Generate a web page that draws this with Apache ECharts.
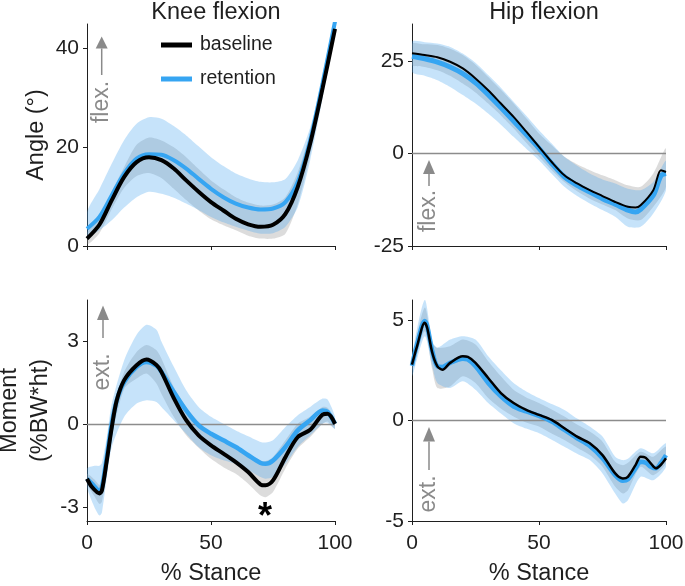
<!DOCTYPE html>
<html>
<head>
<meta charset="utf-8">
<script src="https://cdn.jsdelivr.net/npm/echarts@6/dist/echarts.min.js"></script>
<style>
html,body{margin:0;padding:0;background:#fff;}
#chart{width:685px;height:586px;}
</style>
</head>
<body>
<div id="chart"></div>
<script>
// ---------- DATA ----------
const panelTitles = ['Knee flexion', 'Hip flexion'];
const seriesNames = ['baseline', 'retention'];
const xTicks = [0, 50, 100];

// Knee angle (top-left)
const kaX = [0,5,10,15,20,25,30,35,40,45,50,55,60,65,70,75,80,85,90,95,100];
const kaBase = [1.5,4.3,9.3,14,17,18,17.4,15.7,13.3,11,8.9,7.2,5.5,4.4,3.9,4.3,6.5,12,20.8,32,44];
const kaRet  = [3.5,5.9,10.3,14.7,17.7,18.6,18.5,17.4,15.7,13.6,11.6,9.9,8.6,7.8,7.4,7.6,8.9,13,21.4,33,45.5];
const kaBaseHi = [2.7,6.0,11,16,20.5,22,21.4,20,18,15.6,13.3,11.5,9.9,8.8,8.2,8.4,9.9,15,23,33.5,44.8];
const kaBaseLo = [0.3,2.6,7.5,11.8,14.2,14.8,13.8,11.6,9.3,7.2,5.4,4.2,3.2,2.1,1.5,1.5,2.5,8.5,18.5,30.5,43];
const kaRetHi = [6.9,11.5,16.7,21.5,24.8,26.1,25.8,24.3,22.4,20.2,18,16.2,14.7,13.7,13,12.9,13.6,17.4,24,34,46];
const kaRetLo = [2.0,3.2,5.2,7.8,9.9,11,10.6,9.8,8.6,7.3,5.9,4.8,3.9,3.1,2.5,2.6,3.9,7.9,17.4,30,43.7];
const kaTicks = [0, 20, 40];

// Hip angle (top-right)
const haX = [0,5,10,15,20,25,30,35,40,45,50,55,60,65,70,75,80,85,88,90,95,98,100];
const haBase = [27.1,26.6,26,24.8,23,20.3,17.1,13.5,9.9,5.9,1.8,-2.3,-5.9,-8.1,-9.9,-11.5,-13.1,-14.4,-14.6,-14,-9.9,-4.5,-5];
const haRet  = [26.3,25.6,24.7,23.4,21.6,19.1,15.9,12.4,8.8,5.1,1.4,-2.7,-6.3,-8.6,-10.4,-12.2,-13.7,-15.3,-15.8,-15.1,-11.3,-6,-5.4];
const haBandX = [0,5,10,15,20,25,30,35,40,45,50,55,60,65,70,75,80,85,90,95,100];
const haBaseHi = [29.7,29.5,29.3,28.3,26.6,24,20.7,17.2,13.5,9.5,5.4,2.2,-0.9,-2.9,-4.5,-5.9,-7.2,-8.6,-9,-5.4,1.4];
const haBaseLo = [23.9,23.4,22.5,21,18.9,16.5,13.5,10.3,6.8,2.9,-0.9,-4.5,-7.7,-10.2,-12.2,-13.8,-15.3,-17.6,-18,-14.4,-9];
const haRetHi = [30.2,30.1,29.7,28.8,27,24.5,21.2,17.8,14,10.2,6.3,2.7,-0.9,-3.3,-5.4,-7,-8.1,-9.5,-9.9,-7.7,-2];
const haRetLo = [22,21,19.8,18,15.8,13.5,10.8,7.8,4.5,1.3,-1.8,-5.5,-9,-11.5,-13.5,-15.3,-17.1,-19.8,-19.8,-16.2,-9.9];
const haTicks = [-25, 0, 25];

// Knee moment (bottom-left)
const kmX = [0,2,5,6,8,10,12,15,20,24,28,30,35,40,45,50,55,60,65,70,72,75,80,85,90,95,97,100];
const kmBase = [-1.97,-2.27,-2.5,-2.4,-1.3,-0.1,0.87,1.6,2.14,2.35,2.15,1.9,0.95,0.15,-0.4,-0.76,-1.06,-1.37,-1.73,-2.18,-2.21,-2.03,-1.19,-0.46,-0.2,0.35,0.38,0.02];
const kmRet  = [-1.97,-2.15,-2.4,-2.3,-1.18,0.02,0.87,1.54,2.08,2.26,2.12,1.9,1.17,0.5,-0.04,-0.34,-0.58,-0.82,-1.12,-1.4,-1.43,-1.31,-0.82,-0.22,0.15,0.5,0.45,0.02];
const kmBandX = [0,3,5,6,8,10,15,20,24,28,30,35,40,45,50,55,60,65,70,72,75,80,85,90,95,97,100];
const kmBaseHi = [-1.79,-2.0,-2.2,-2.0,-1.0,0.4,1.9,2.62,2.87,2.68,2.38,1.35,0.63,0.1,-0.34,-0.6,-0.82,-1.05,-1.31,-1.33,-1.19,-0.58,0.02,0.27,0.63,0.6,0.15];
const kmBaseLo = [-2.15,-2.6,-2.88,-2.8,-1.8,-0.46,1.29,1.66,1.84,1.48,1.11,0.27,-0.4,-0.85,-1.25,-1.55,-1.79,-2.15,-2.58,-2.64,-2.45,-1.6,-0.88,-0.46,0.02,0.1,-0.16];
const kmRetHi = [-1.6,-1.5,-1.5,-1.4,-0.46,0.75,2.32,3.24,3.6,3.42,3.0,2.08,1.23,0.63,0.27,0.02,-0.22,-0.43,-0.64,-0.66,-0.58,-0.1,0.33,0.63,0.93,0.9,0.27];
const kmRetLo = [-2.27,-3.0,-3.3,-3.2,-1.9,-0.82,0.27,0.75,0.87,0.81,0.63,0.15,-0.34,-0.82,-1.12,-1.3,-1.43,-1.65,-1.91,-1.97,-1.91,-1.43,-0.82,-0.4,0.02,0.05,-0.16];
const kmTicks = [-3, 0, 3];

// Hip moment (bottom-right)
const hmX = [0,2,5,6,8,10,12,15,20,22,25,30,35,40,45,50,55,60,65,70,75,80,83,85,88,90,92,94,96,98,100];
const hmBase = [2.78,3.7,4.87,4.6,3.37,2.7,2.53,2.87,3.2,3.17,2.87,2.12,1.37,0.87,0.53,0.28,0.03,-0.38,-0.8,-1.13,-1.72,-2.63,-2.88,-2.8,-2.22,-1.8,-1.85,-2.13,-2.38,-2.2,-1.88];
const hmRet  = [2.73,3.8,4.95,4.7,3.45,2.7,2.67,2.87,3.07,3.03,2.7,1.87,1.2,0.7,0.45,0.23,-0.05,-0.47,-0.88,-1.27,-1.88,-2.72,-3.0,-2.93,-2.38,-2.05,-2.1,-2.3,-2.38,-2.1,-1.72];
const hmBandX = [0,5,8,10,15,20,25,30,35,40,45,50,55,60,65,70,75,80,83,85,90,95,100];
const hmBaseHi = [3.03,5.62,3.87,3.62,3.7,4.03,3.78,2.95,2.2,1.53,1.15,0.87,0.55,0.2,-0.2,-0.55,-1.05,-2.05,-2.22,-2.1,-1.55,-1.8,-1.3];
const hmBaseLo = [2.45,4.45,2.53,1.62,1.7,2.2,1.87,1.12,0.6,0.2,-0.1,-0.3,-0.65,-0.97,-1.35,-1.72,-2.3,-3.3,-3.63,-3.47,-2.3,-2.72,-2.13];
const hmRetHi = [3.2,6.0,3.95,3.62,4.03,4.2,4.03,3.2,2.5,1.87,1.45,1.12,0.82,0.53,0.1,-0.3,-0.8,-1.8,-1.97,-1.9,-1.38,-1.63,-1.13];
const hmRetLo = [2.2,4.2,2.7,1.87,1.62,1.95,1.53,0.87,0.35,-0.13,-0.4,-0.63,-0.95,-1.3,-1.65,-1.97,-2.63,-3.63,-4.13,-3.97,-2.8,-2.97,-2.3];
const hmTicks = [-5, 0, 5];

// ---------- STYLE ----------
const FONT = '"Liberation Sans", Arial, Helvetica, sans-serif';
const TXT = '#1f1f1f';
const BLUE = '#36a5f2';
const GRAYBAND = 'rgba(150,150,150,0.33)';
const BLUEBAND = 'rgba(70,165,240,0.31)';
const ANNO = '#8a8a8a';

const panels = [
  {grid:{left:87, top:24, width:248, height:222}, min:0, max:45, ticks:kaTicks, xLabels:false,
   x:kaX, base:kaBase, ret:kaRet, bx:kaX, bHi:kaBaseHi, bLo:kaBaseLo, rHi:kaRetHi, rLo:kaRetLo,
   zero:false, baseW:4, retW:4, yName:'Angle (°)', yGap:29},
  {grid:{left:412, top:24, width:254, height:222}, min:-25, max:35, ticks:haTicks, xLabels:false,
   x:haX, base:haBase, ret:haRet, bx:haBandX, bHi:haBaseHi, bLo:haBaseLo, rHi:haRetHi, rLo:haRetLo,
   zero:true, baseW:2, retW:5, yName:'', yGap:0},
  {grid:{left:87, top:300, width:248, height:221}, min:-3.5, max:4.5, ticks:kmTicks, xLabels:true,
   x:kmX, base:kmBase, ret:kmRet, bx:kmBandX, bHi:kmBaseHi, bLo:kmBaseLo, rHi:kmRetHi, rLo:kmRetLo,
   zero:true, baseW:4, retW:4.5, yName:'Moment\n(%BW*ht)', yGap:26},
  {grid:{left:412, top:300, width:254, height:221}, min:-5, max:6, ticks:hmTicks, xLabels:true,
   x:hmX, base:hmBase, ret:hmRet, bx:hmBandX, bHi:hmBaseHi, bLo:hmBaseLo, rHi:hmRetHi, rLo:hmRetLo,
   zero:true, baseW:2.5, retW:4.5, yName:'', yGap:0}
];

function pairs(xs, ys){ return xs.map((x,i)=>[x, ys[i]]); }

function bandSeries(idx, xs, lo, hi, color){
  return {
    type:'custom', xAxisIndex:idx, yAxisIndex:idx, silent:true, clip:true, z:1,
    data:[[xs[0], lo[0]]],
    renderItem:function(params, api){
      const pts = [];
      for (let i=0;i<xs.length;i++) pts.push(api.coord([xs[i], hi[i]]));
      for (let i=xs.length-1;i>=0;i--) pts.push(api.coord([xs[i], lo[i]]));
      return {type:'polygon', shape:{points:pts, smooth:0.25}, style:{fill:color, stroke:null}};
    }
  };
}

const grids=[], xAxes=[], yAxes=[], series=[];
panels.forEach((p, i)=>{
  grids.push(Object.assign({containLabel:false, outerBoundsMode:'none'}, p.grid));
  xAxes.push({
    type:'value', gridIndex:i, min:0, max:100, interval:50,
    axisLine:{show:true, onZero:false, lineStyle:{color:TXT, width:1}},
    axisTick:{show:true, inside:false, length:4, lineStyle:{color:TXT}},
    axisLabel:{show:p.xLabels, fontSize:21, color:TXT, fontFamily:FONT, margin:12},
    splitLine:{show:false},
    name: p.xLabels ? '% Stance' : '', nameLocation:'middle', nameGap:41,
    nameTextStyle:{fontSize:23.5, color:TXT, fontFamily:FONT}
  });
  yAxes.push({
    type:'value', gridIndex:i, min:p.min, max:p.max,
    axisLine:{show:true, onZero:false, lineStyle:{color:TXT, width:1}},
    axisTick:{show:true, inside:false, length:4, lineStyle:{color:TXT}, customValues:p.ticks},
    axisLabel:{fontSize:21, color:TXT, fontFamily:FONT, margin:8, customValues:p.ticks},
    splitLine:{show:false},
    name:p.yName, nameLocation:'middle', nameGap:p.yGap,
    nameTextStyle:{fontSize:23.5, color:TXT, fontFamily:FONT, lineHeight:31}
  });
  series.push(bandSeries(i, p.bx, p.bLo, p.bHi, GRAYBAND));
  series.push(bandSeries(i, p.bx, p.rLo, p.rHi, BLUEBAND));
  const retS = {
    name:'retention', type:'line', xAxisIndex:i, yAxisIndex:i, data:pairs(p.x, p.ret),
    showSymbol:false, smooth:0.3, clip:true, color:BLUE, z:3,
    lineStyle:{color:BLUE, width:p.retW}, silent:true
  };
  if (p.zero){
    retS.markLine = {silent:true, symbol:['none','none'], label:{show:false},
      lineStyle:{color:'#8c8c8c', width:1.3, type:'solid'}, data:[{yAxis:0}], z:2};
  }
  series.push(retS);
  series.push({
    name:'baseline', type:'line', xAxisIndex:i, yAxisIndex:i, data:pairs(p.x, p.base),
    showSymbol:false, smooth:0.3, clip:true, color:'#000', z:4,
    lineStyle:{color:'#000', width:p.baseW}, silent:true
  });
});

function arrowAnno(cx, apexY, baseY, lineEnd, textY, label){
  return [
    {type:'polygon', shape:{points:[[cx,apexY],[cx-6,baseY],[cx+6,baseY]]}, style:{fill:ANNO}, silent:true},
    {type:'line', shape:{x1:cx, y1:baseY, x2:cx, y2:lineEnd}, style:{stroke:ANNO, lineWidth:1.5}, silent:true},
    {type:'text', x:cx, y:textY, rotation:Math.PI/2,
     style:{text:label, fill:ANNO, fontSize:23, fontFamily:FONT, align:'center', verticalAlign:'middle'}, silent:true}
  ];
}

const graphics = [].concat(
  arrowAnno(101.7, 36.5, 48.5, 75, 102, 'flex.'),
  arrowAnno(429, 160, 174, 186, 211, 'flex.'),
  arrowAnno(103, 305.5, 320, 338, 372, 'ext.'),
  arrowAnno(429, 427, 441.5, 470, 494, 'ext.'),
  [{type:'text', x:265, y:518, style:{text:'*', fill:'#000', fontSize:36, fontWeight:'bold', fontFamily:FONT, align:'center', verticalAlign:'middle'}, silent:true}]
);

const chart = echarts.init(document.getElementById('chart'), null, {renderer:'canvas'});
chart.setOption({
  animation:false,
  backgroundColor:'#fff',
  textStyle:{fontFamily:FONT},
  title:[
    {text:panelTitles[0], left:211, top:-4, textAlign:'center', textStyle:{fontSize:23.5, fontWeight:'normal', color:TXT, fontFamily:FONT}},
    {text:panelTitles[1], left:539, top:-4, textAlign:'center', textStyle:{fontSize:23.5, fontWeight:'normal', color:TXT, fontFamily:FONT}}
  ],
  legend:{
    data:seriesNames, orient:'vertical', left:156, top:30, icon:'rect',
    itemWidth:31, itemHeight:5, itemGap:14, selectedMode:false,
    textStyle:{fontSize:19.5, color:TXT, fontFamily:FONT, lineHeight:20, padding:[0,0,0,3]}
  },
  grid:grids, xAxis:xAxes, yAxis:yAxes, series:series, graphic:graphics
});
</script>
</body>
</html>
